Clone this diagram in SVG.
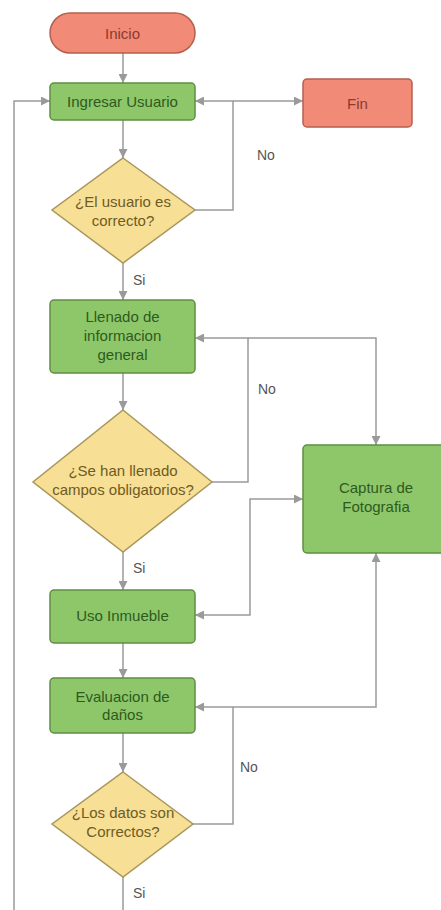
<svg xmlns="http://www.w3.org/2000/svg" width="441" height="910" viewBox="0 0 441 910">
<defs>
<marker id="ah" viewBox="0 0 10 10" refX="10" refY="5" markerWidth="9" markerHeight="9" markerUnits="userSpaceOnUse" orient="auto-start-reverse">
<path d="M0,0 L10,5 L0,10 z" fill="#9a9a9a"/>
</marker>
<style>
.red{fill:#f28a78;stroke:#b4604f;stroke-width:1.5}
.grn{fill:#8dc76a;stroke:#5e8f42;stroke-width:1.5}
.yel{fill:#f7df96;stroke:#a8965c;stroke-width:1.5}
.c{fill:none;stroke:#9a9a9a;stroke-width:1.5}
text{font-family:"Liberation Sans",Arial,sans-serif;font-size:15px;text-anchor:middle;dominant-baseline:central}
.tr{fill:#8c3a30}
.tg{fill:#2f5a1e}
.ty{fill:#6e5c22}
.lb{fill:#555;font-size:14px;text-anchor:start}
</style>
</defs>
<rect width="441" height="910" fill="#fff"/>
<g id="connectors">
<path class="c" d="M123 53 V83" marker-end="url(#ah)"/>
<path class="c" d="M123 120 V158" marker-end="url(#ah)"/>
<path class="c" d="M195 210 H233 V101 H195" marker-end="url(#ah)"/>
<path class="c" d="M233 101 H303" marker-end="url(#ah)"/>
<path class="c" d="M123 263 V300" marker-end="url(#ah)"/>
<path class="c" d="M123 373 V410" marker-end="url(#ah)"/>
<path class="c" d="M212 482 H248 V338 H195" marker-end="url(#ah)"/>
<path class="c" d="M248 338 H376 V445" marker-end="url(#ah)"/>
<path class="c" d="M123 552 V590" marker-end="url(#ah)"/>
<path class="c" d="M195 615 H250 V499 H303" marker-start="url(#ah)" marker-end="url(#ah)"/>
<path class="c" d="M123 643 V678" marker-end="url(#ah)"/>
<path class="c" d="M195 707 H376 V553" marker-start="url(#ah)" marker-end="url(#ah)"/>
<path class="c" d="M123 733 V772" marker-end="url(#ah)"/>
<path class="c" d="M193 824 H233 V707"/>
<path class="c" d="M123 877 V910"/>
<path class="c" d="M14 910 V101 H50" marker-end="url(#ah)"/>
<text class="lb" x="257" y="155">No</text>
<text class="lb" x="258" y="389">No</text>
<text class="lb" x="240" y="767">No</text>
<text class="lb" x="133" y="280">Si</text>
<text class="lb" x="133" y="568">Si</text>
<text class="lb" x="133" y="893">Si</text>
</g>
<g id="inicio"><rect class="red" x="50" y="13" width="145" height="40" rx="20"/><text class="tr" x="122.5" y="33">Inicio</text></g>
<g id="ingresar"><rect class="grn" x="50" y="83" width="145" height="37" rx="4"/><text class="tg" x="122.5" y="101.5">Ingresar Usuario</text></g>
<g id="fin"><rect class="red" x="303" y="79" width="109" height="48" rx="4"/><text class="tr" x="357.5" y="103">Fin</text></g>
<g id="d1"><polygon class="yel" points="123,158 195,210 123,263 52,210"/><text class="ty" x="123" y="201">¿El usuario es</text><text class="ty" x="123" y="220">correcto?</text></g>
<g id="llenado"><rect class="grn" x="50" y="300" width="145" height="73" rx="4"/><text class="tg" x="122.5" y="316">Llenado de</text><text class="tg" x="122.5" y="335">informacion</text><text class="tg" x="122.5" y="354">general</text></g>
<g id="d2"><polygon class="yel" points="123,410 212,482 123,552 33,482"/><text class="ty" x="123" y="470">¿Se han llenado</text><text class="ty" x="123" y="489">campos obligatorios?</text></g>
<g id="captura"><rect class="grn" x="303" y="445" width="150" height="108" rx="4"/><text class="tg" x="376" y="487">Captura de</text><text class="tg" x="376" y="506">Fotografia</text></g>
<g id="uso"><rect class="grn" x="50" y="590" width="145" height="53" rx="4"/><text class="tg" x="122.5" y="615">Uso Inmueble</text></g>
<g id="evaluacion"><rect class="grn" x="50" y="678" width="145" height="55" rx="4"/><text class="tg" x="122.5" y="696">Evaluacion de</text><text class="tg" x="122.5" y="714">daños</text></g>
<g id="d3"><polygon class="yel" points="123,772 193,824 123,877 52,824"/><text class="ty" x="123" y="812">¿Los datos son</text><text class="ty" x="123" y="831">Correctos?</text></g>
</svg>
